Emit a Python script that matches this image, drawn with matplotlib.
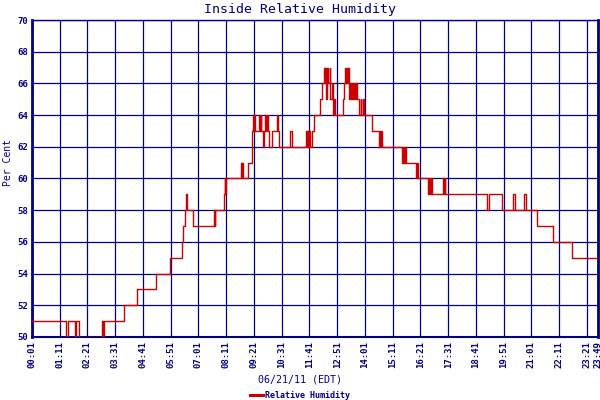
import matplotlib
matplotlib.use("Agg")
import matplotlib.pyplot as plt
from matplotlib.lines import Line2D

NAVY = "#000080"
RED = "#cc0000"

# change points of the step series: minute of day -> relative humidity (%)
minutes = [1, 88, 93, 109, 112, 120, 177, 179, 183, 234, 267, 313, 349, 379, 382,
           386, 389, 391, 408, 461, 462, 463, 486, 488, 489, 490, 528, 530, 532, 533,
           545, 555, 557, 559, 561, 562, 564, 574, 576, 578, 579, 584, 587, 590, 592,
           594, 596, 599, 606, 620, 622, 625, 652, 656, 692, 694, 695, 698, 700, 702,
           708, 712, 727, 732, 737, 739, 741, 743, 746, 748, 752, 754, 757, 760, 763,
           765, 785, 787, 790, 792, 795, 797, 799, 801, 803, 806, 808, 811, 813, 816,
           818, 822, 826, 830, 832, 836, 838, 858, 876, 878, 880, 882, 884, 935, 937,
           939, 941, 944, 970, 972, 974, 1001, 1003, 1006, 1008, 1010, 1037, 1040, 1042,
           1044, 1149, 1153, 1188, 1215, 1219, 1243, 1247, 1274, 1316, 1364, 1429]
humidity = [51, 50, 51, 50, 51, 50, 51, 50, 51, 52, 53, 54, 55, 56, 57,
            58, 59, 58, 57, 58, 57, 58, 59, 60, 59, 60, 61, 60, 61, 60,
            61, 62, 63, 64, 63, 64, 63, 64, 63, 64, 63, 62, 63, 64, 63,
            64, 63, 62, 63, 64, 63, 62, 63, 62, 63, 62, 63, 62, 63, 62,
            63, 64, 65, 66, 67, 66, 67, 65, 67, 66, 67, 65, 66, 64, 65,
            64, 65, 66, 67, 66, 67, 66, 67, 65, 66, 65, 66, 65, 66, 65,
            66, 65, 64, 65, 64, 65, 64, 63, 62, 63, 62, 63, 62, 61, 62,
            61, 62, 61, 60, 61, 60, 59, 60, 59, 60, 59, 60, 59, 60,
            59, 58, 59, 58, 59, 58, 59, 58, 57, 56, 55, 55]

tick_minutes = list(range(1, 1402, 70)) + [1429]
tick_labels = ["00:01", "01:11", "02:21", "03:31", "04:41", "05:51", "07:01", "08:11",
               "09:21", "10:31", "11:41", "12:51", "14:01", "15:11", "16:21", "17:31",
               "18:41", "19:51", "21:01", "22:11", "23:21", "23:49"]
y_ticks = list(range(50, 71, 2))

mono = "DejaVu Sans Mono"

fig = plt.figure(figsize=(6, 4), dpi=100)
ax = fig.add_axes([32 / 600, 1 - 337 / 400, 566 / 600, 317 / 400])

ax.plot(minutes, humidity, drawstyle="steps-post", color=RED, lw=1.0, zorder=3)

ax.set_xlim(1, 1429)
ax.set_ylim(50, 70)
ax.set_xticks(tick_minutes)
ax.set_xticklabels(tick_labels, rotation=90, family=mono, fontsize=6.5,
                   fontweight="bold", color=NAVY)
ax.set_yticks(y_ticks)
ax.set_yticklabels([str(v) for v in y_ticks], family=mono, fontsize=6.5,
                   fontweight="bold", color=NAVY)
ax.tick_params(length=0, pad=3)
ax.grid(True, color=NAVY, lw=0.9)
ax.set_axisbelow(True)
for side, sp in ax.spines.items():
    sp.set_color(NAVY)
    sp.set_linewidth(1.0)
ax.spines["left"].set_linewidth(2.0)
ax.spines["right"].set_linewidth(2.0)
ax.spines["bottom"].set_linewidth(1.5)

fig.text(0.5, 1 - 9 / 400, "Inside Relative Humidity", ha="center", va="center",
         family=mono, fontsize=9.5, color=NAVY)
fig.text(0.5, 1 - 379 / 400, "06/21/11 (EDT)", ha="center", va="center",
         family=mono, fontsize=7.2, color=NAVY)
fig.text(8 / 600, 1 - 162 / 400, "Per Cent", ha="center", va="center", rotation=90,
         family=mono, fontsize=7, color=NAVY)

# legend key is drawn thicker than the series line, as in the original
key = Line2D([], [], color=RED, lw=2.2, label="Relative Humidity")
fig.legend(handles=[key], loc="center", bbox_to_anchor=(0.5, 1 - 395 / 400),
           frameon=False, handlelength=1.6, handletextpad=0.3,
           prop={"family": mono, "size": 6, "weight": "bold"}, labelcolor=NAVY)

fig.savefig("out.png", dpi=100)
